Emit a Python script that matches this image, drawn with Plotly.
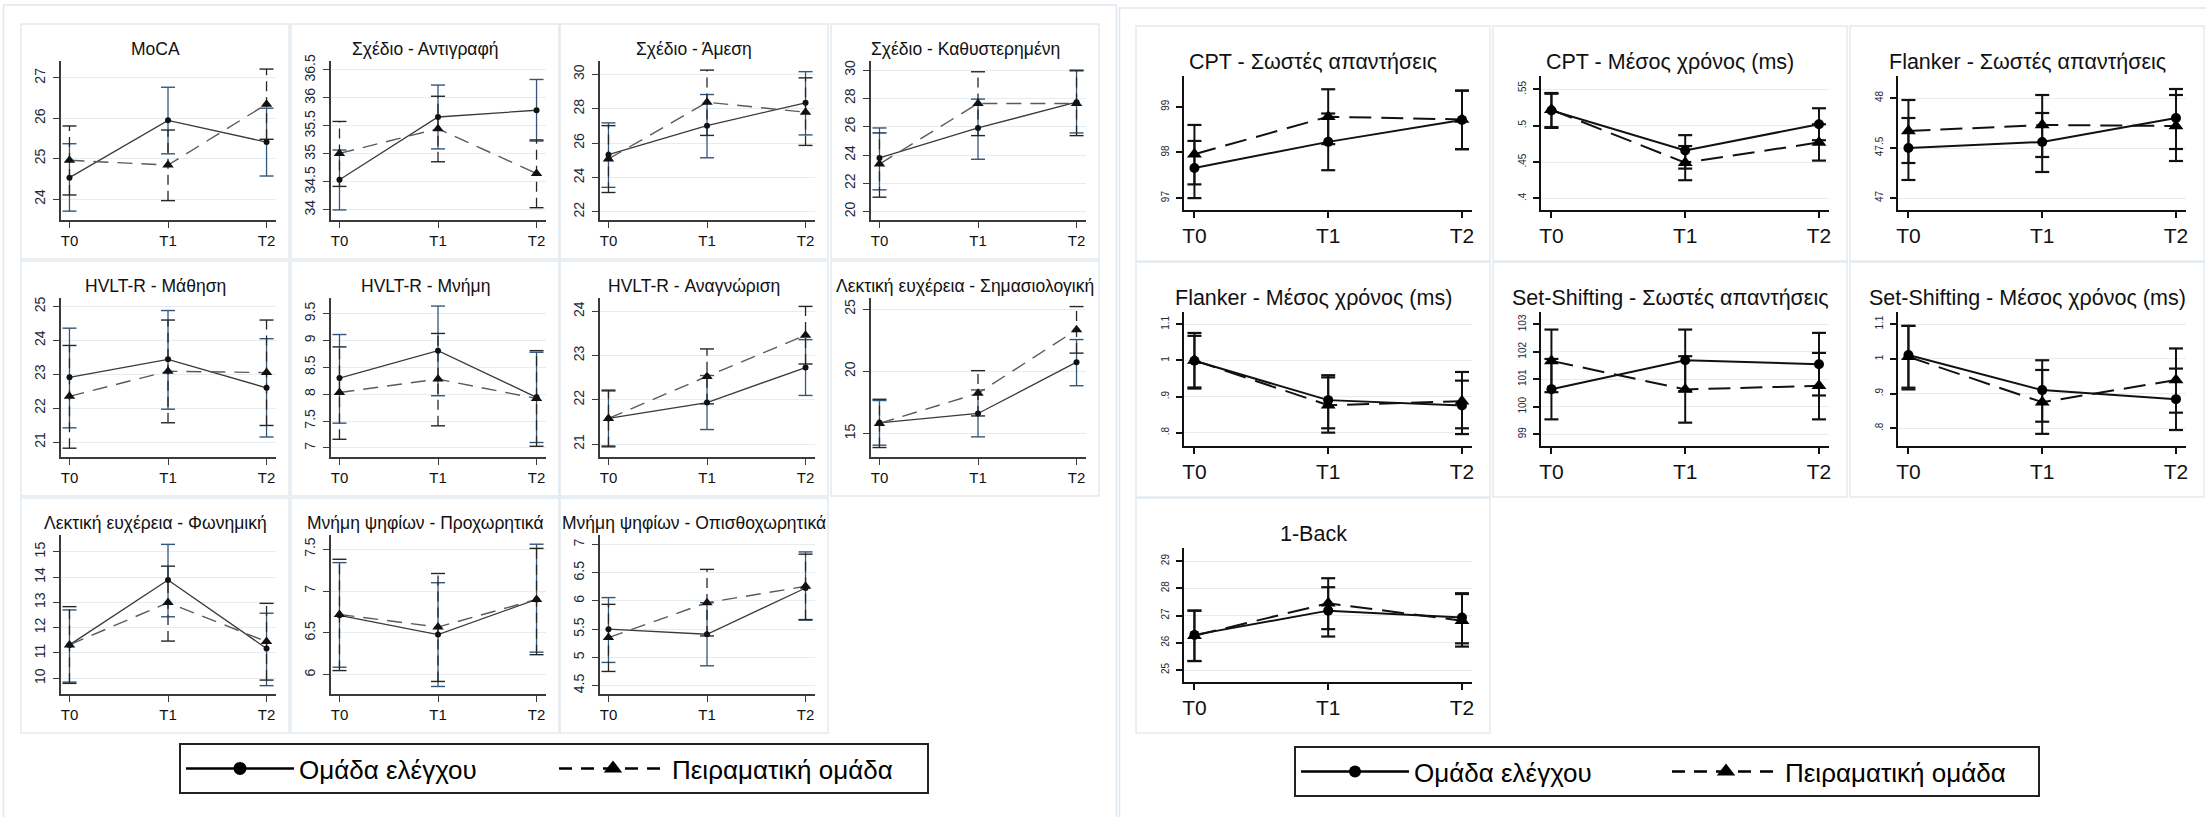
import plotly.graph_objects as go

W, H = 2206, 817
FONT = "Liberation Sans, Arial, Helvetica, sans-serif"

time_pos = [0, 1, 2]
time_labels = ["T0", "T1", "T2"]
group_names = ["Ομάδα ελέγχου", "Πειραματική ομάδα"]

# Estimated marginal means with 95% CI at T0, T1, T2 (control / experimental)
moca = dict(ctrl=[24.53, 25.95, 25.41], ctrl_lo=[23.70, 25.12, 24.57], ctrl_hi=[25.37, 26.77, 26.25],
            exp=[24.96, 24.84, 26.35], exp_lo=[24.10, 23.96, 25.48], exp_hi=[25.81, 25.71, 27.22])
draw_copy = dict(ctrl=[34.54, 35.66, 35.78], ctrl_lo=[34.00, 35.09, 35.23], ctrl_hi=[35.07, 36.23, 36.33],
                 exp=[35.01, 35.45, 34.65], exp_lo=[34.42, 34.86, 34.04], exp_hi=[35.58, 36.03, 35.25])
draw_immediate = dict(ctrl=[25.33, 27.02, 28.35], ctrl_lo=[23.43, 25.15, 26.48], ctrl_hi=[27.18, 28.83, 30.16],
                      exp=[25.08, 28.38, 27.80], exp_lo=[23.13, 26.45, 25.87], exp_hi=[27.02, 30.25, 29.80])
draw_delayed = dict(ctrl=[23.79, 25.91, 27.73], ctrl_lo=[21.54, 23.70, 25.56], ctrl_hi=[25.91, 27.95, 30.00],
                    exp=[23.36, 27.64, 27.64], exp_lo=[21.02, 25.37, 25.37], exp_hi=[25.56, 29.88, 29.95])
hvlt_learning = dict(ctrl=[22.91, 23.44, 22.60], ctrl_lo=[21.42, 21.97, 21.15], ctrl_hi=[24.36, 24.88, 24.05],
                     exp=[22.35, 23.09, 23.05], exp_lo=[20.82, 21.57, 21.49], exp_hi=[23.85, 24.60, 24.60])
hvlt_memory = dict(ctrl=[8.30, 8.81, 7.94], ctrl_lo=[7.46, 7.97, 7.10], ctrl_hi=[9.11, 9.64, 8.78],
                   exp=[8.03, 8.28, 7.92], exp_lo=[7.16, 7.41, 7.03], exp_hi=[8.88, 9.13, 8.81])
hvlt_recognition = dict(ctrl=[21.58, 21.94, 22.73], ctrl_lo=[20.96, 21.33, 22.10], ctrl_hi=[22.20, 22.55, 23.36],
                        exp=[21.58, 22.53, 23.46], exp_lo=[20.94, 21.91, 22.81], exp_hi=[22.22, 23.15, 24.11])
fluency_semantic = dict(ctrl=[15.86, 16.61, 20.73], ctrl_lo=[14.06, 14.73, 18.84], ctrl_hi=[17.65, 18.50, 22.55],
                        exp=[15.81, 18.23, 23.33], exp_lo=[13.87, 16.41, 21.46], exp_hi=[17.75, 20.05, 25.20])
fluency_phonemic = dict(ctrl=[11.32, 13.88, 11.18], ctrl_lo=[9.85, 12.43, 9.71], ctrl_hi=[12.70, 15.29, 12.57],
                        exp=[11.32, 12.99, 11.45], exp_lo=[9.80, 11.47, 9.93], exp_hi=[12.83, 14.43, 12.96])
digits_forward = dict(ctrl=[6.71, 6.48, 6.90], ctrl_lo=[6.09, 5.86, 6.27], ctrl_hi=[7.34, 7.10, 7.56],
                      exp=[6.72, 6.57, 6.90], exp_lo=[6.05, 5.92, 6.24], exp_hi=[7.38, 7.21, 7.51])
digits_backward = dict(ctrl=[5.50, 5.41, 6.23], ctrl_lo=[4.91, 4.85, 5.66], ctrl_hi=[6.06, 5.97, 6.87],
                       exp=[5.35, 5.97, 6.26], exp_lo=[4.75, 5.38, 5.67], exp_hi=[5.94, 6.56, 6.83])

cpt_correct = dict(ctrl=[97.66, 98.23, 98.71], ctrl_lo=[97.00, 97.61, 98.07], ctrl_hi=[98.25, 98.85, 99.35],
                   exp=[97.96, 98.78, 98.72], exp_lo=[97.30, 98.18, 98.07], exp_hi=[98.60, 99.38, 99.35])
cpt_rt = dict(ctrl=[0.521, 0.466, 0.502], ctrl_lo=[0.497, 0.441, 0.480], ctrl_hi=[0.544, 0.487, 0.524],
              exp=[0.522, 0.449, 0.477], exp_lo=[0.498, 0.425, 0.452], exp_hi=[0.545, 0.472, 0.502])
flanker_correct = dict(ctrl=[47.50, 47.56, 47.80], ctrl_lo=[47.18, 47.26, 47.49], ctrl_hi=[47.80, 47.85, 48.09],
                       exp=[47.67, 47.73, 47.72], exp_lo=[47.35, 47.41, 47.37], exp_hi=[47.98, 48.03, 48.03])
flanker_rt = dict(ctrl=[0.999, 0.890, 0.875], ctrl_lo=[0.922, 0.812, 0.796], ctrl_hi=[1.076, 0.959, 0.944],
                  exp=[1.000, 0.876, 0.887], exp_lo=[0.925, 0.800, 0.812], exp_hi=[1.068, 0.953, 0.968])
shifting_correct = dict(ctrl=[100.64, 101.69, 101.55], ctrl_lo=[99.54, 100.57, 100.41], ctrl_hi=[101.74, 102.81, 102.69],
                        exp=[101.67, 100.63, 100.76], exp_lo=[100.53, 99.42, 99.54], exp_hi=[102.81, 101.84, 101.96])
shifting_rt = dict(ctrl=[1.011, 0.910, 0.884], ctrl_lo=[0.917, 0.819, 0.795], ctrl_hi=[1.095, 0.996, 0.972],
                   exp=[1.006, 0.875, 0.939], exp_lo=[0.912, 0.784, 0.845], exp_hi=[1.095, 0.968, 1.030])
one_back = dict(ctrl=[26.29, 27.18, 26.93], ctrl_lo=[25.33, 26.23, 25.98], ctrl_hi=[27.18, 28.04, 27.82],
                exp=[26.26, 27.45, 26.81], exp_lo=[25.33, 26.50, 25.86], exp_hi=[27.18, 28.37, 27.79])

# (title, data, y range, y ticks, horizontal grid)
left_panels = [
    ("MoCA", moca, [23.48, 27.42], [24, 25, 26, 27], True),
    ("Σχέδιο - Αντιγραφή", draw_copy, [33.82, 36.66], [34, 34.5, 35, 35.5, 36, 36.5], True),
    ("Σχέδιο - Άμεση", draw_immediate, [21.53, 30.78], [22, 24, 26, 28, 30], True),
    ("Σχέδιο - Καθυστερημένη", draw_delayed, [19.41, 30.64], [20, 22, 24, 26, 28, 30], True),
    ("HVLT-R - Μάθηση", hvlt_learning, [20.56, 25.25], [21, 22, 23, 24, 25], True),
    ("HVLT-R - Μνήμη", hvlt_memory, [6.83, 9.79], [7, 7.5, 8, 8.5, 9, 9.5], True),
    ("HVLT-R - Αναγνώριση", hvlt_recognition, [20.71, 24.30], [21, 22, 23, 24], True),
    ("Λεκτική ευχέρεια - Σημασιολογική", fluency_semantic, [13.11, 25.89], [15, 20, 25], True),
    ("Λεκτική ευχέρεια - Φωνημική", fluency_phonemic, [9.38, 15.66], [10, 11, 12, 13, 14, 15], True),
    ("Μνήμη ψηφίων - Προχωρητικά", digits_forward, [5.77, 7.67], [6, 6.5, 7, 7.5], True),
    ("Μνήμη ψηφίων - Οπισθοχωρητικά", digits_backward, [4.35, 7.17], [4.5, 5, 5.5, 6, 6.5, 7], True),
]
right_panels = [
    ("CPT - Σωστές απαντήσεις", cpt_correct, [96.74, 99.67], [97, 98, 99], False),
    ("CPT - Μέσος χρόνος (ms)", cpt_rt, [0.384, 0.5684], [0.4, 0.45, 0.5, 0.55], True),
    ("Flanker - Σωστές απαντήσεις", flanker_correct, [46.88, 48.22], [47, 47.5, 48], True),
    ("Flanker - Μέσος χρόνος (ms)", flanker_rt, [0.763, 1.134], [0.8, 0.9, 1, 1.1], True),
    ("Set-Shifting - Σωστές απαντήσεις", shifting_correct, [98.57, 103.45], [99, 100, 101, 102, 103], True),
    ("Set-Shifting - Μέσος χρόνος (ms)", shifting_rt, [0.749, 1.135], [0.8, 0.9, 1, 1.1], True),
    ("1-Back", one_back, [24.56, 29.48], [25, 26, 27, 28, 29], True),
]

# Geometry of the two combined graphs, in pixels
left_geom = dict(cols=[21, 291, 560, 831], rows=[24, 261, 498], cell=(268, 235),
                 inset=(40, 13, 37, 39), title_dy=25, xrange=[-0.086, 2.096])
right_geom = dict(cols=[1136, 1493, 1850], rows=[26, 262, 498], cell=(354, 235),
                  inset=(48, 18, 50, 51), title_dy=36, xrange=[-0.078, 2.075])

left_style = dict(
    ctrl_line=dict(color="#3a3a3a", width=1.3),
    exp_line=dict(color="#5a5a5a", width=1.4, dash="15px,9px"),
    ctrl_marker=dict(symbol="circle", size=6, color="#111111"),
    exp_marker=dict(symbol="triangle-up", size=10, color="#111111"),
    ctrl_ci=dict(color="#34567a", width=1.3),
    exp_ci=dict(color="#262626", width=1.3, dash="10px,6px"),
    cap=10, cap_width=1.4,
    axis_color="#3a3a3a", axis_width=1.5, ticklen=6,
    xtick_size=15, ytick_size=14, title_size=17.5,
    legend_ctrl_marker=dict(symbol="circle", size=13, color="#000000"),
    legend_exp_marker=dict(symbol="triangle-up", size=16, color="#000000"),
    legend_exp_dash="13px,9px",
)
right_style = dict(
    ctrl_line=dict(color="#111111", width=2.0),
    exp_line=dict(color="#111111", width=2.0, dash="22px,10px"),
    ctrl_marker=dict(symbol="circle", size=10, color="#000000"),
    exp_marker=dict(symbol="triangle-up", size=13, color="#000000"),
    ctrl_ci=dict(color="#111111", width=2.0),
    exp_ci=dict(color="#111111", width=2.0),
    cap=10, cap_width=2.2,
    axis_color="#111111", axis_width=2, ticklen=6,
    xtick_size=21, ytick_size=10, title_size=21.5,
    legend_ctrl_marker=dict(symbol="circle", size=12, color="#000000"),
    legend_exp_marker=dict(symbol="triangle-up", size=16, color="#000000"),
    legend_exp_dash="13px,9px",
)

CELL_LINE = "#e2eaf0"
GRID = "#e6edf2"
TEXT = "#111111"
TICK_TEXT = "#1b2838"


def fx(px):
    return px / W


def fy(py):
    return 1 - py / H


def stata_label(v):
    s = f"{v:g}"
    return s[1:] if s.startswith("0.") else s


def ci_segments(lo, hi):
    xs, ys = [], []
    for t, a, b in zip(time_pos, lo, hi):
        xs += [t, t, None]
        ys += [a, b, None]
    return xs, ys


fig = go.Figure()
shapes, annotations, axes = [], [], {}


def add_panel(k, panel, cell_x, cell_y, geom, style):
    title, d, yr, yt, grid = panel
    cw, ch = geom["cell"]
    l, r, t, b = geom["inset"]
    xa, ya = f"x{k}", f"y{k}"
    shapes.append(dict(type="rect", xref="paper", yref="paper", layer="below",
                       x0=fx(cell_x), x1=fx(cell_x + cw), y0=fy(cell_y + ch), y1=fy(cell_y),
                       line=dict(color=CELL_LINE, width=1.5), fillcolor="white"))
    annotations.append(dict(text=title, xref="paper", yref="paper", showarrow=False,
                            x=fx(cell_x + cw / 2), y=fy(cell_y + geom["title_dy"]),
                            xanchor="center", yanchor="middle",
                            font=dict(family=FONT, size=style["title_size"], color=TEXT)))
    common = dict(showline=True, linecolor=style["axis_color"], linewidth=style["axis_width"],
                  ticks="outside", ticklen=style["ticklen"], tickwidth=style["axis_width"] * 0.8,
                  tickcolor=style["axis_color"], zeroline=False, fixedrange=True)
    axes[f"xaxis{k}"] = dict(common, domain=[fx(cell_x + l), fx(cell_x + cw - r)],
                             anchor=ya, range=geom["xrange"], tickvals=time_pos, ticktext=time_labels,
                             showgrid=False,
                             tickfont=dict(family=FONT, size=style["xtick_size"], color=TEXT))
    axes[f"yaxis{k}"] = dict(common, domain=[fy(cell_y + ch - b), fy(cell_y + t)],
                             anchor=xa, range=yr, tickvals=yt, ticktext=[stata_label(v) for v in yt],
                             tickangle=-90, showgrid=grid, gridcolor=GRID, gridwidth=1,
                             ticklabelstandoff=3,
                             tickfont=dict(family=FONT, size=style["ytick_size"], color=TICK_TEXT))

    for grp in ("ctrl", "exp"):
        sx, sy = ci_segments(d[f"{grp}_lo"], d[f"{grp}_hi"])
        fig.add_trace(go.Scatter(x=sx, y=sy, mode="lines", line=style[f"{grp}_ci"],
                                 xaxis=xa, yaxis=ya, showlegend=False, hoverinfo="skip"))
        fig.add_trace(go.Scatter(x=time_pos * 2, y=d[f"{grp}_lo"] + d[f"{grp}_hi"], mode="markers",
                                 marker=dict(symbol="line-ew", size=style["cap"],
                                             line=dict(color=style[f"{grp}_ci"]["color"],
                                                       width=style["cap_width"])),
                                 xaxis=xa, yaxis=ya, showlegend=False, hoverinfo="skip"))
    for grp, name in zip(("ctrl", "exp"), group_names):
        fig.add_trace(go.Scatter(x=time_pos, y=d[grp], mode="lines+markers", name=name,
                                 line=style[f"{grp}_line"], marker=style[f"{grp}_marker"],
                                 xaxis=xa, yaxis=ya, showlegend=False))


k = 1
for i, panel in enumerate(left_panels):
    add_panel(k, panel, left_geom["cols"][i % 4], left_geom["rows"][i // 4], left_geom, left_style)
    k += 1
for i, panel in enumerate(right_panels):
    add_panel(k, panel, right_geom["cols"][i % 3], right_geom["rows"][i // 3], right_geom, right_style)
    k += 1

# Legend entries (one legend per combined graph)
for legend_id, style in (("legend", left_style), ("legend2", right_style)):
    for grp, name in zip(("ctrl", "exp"), group_names):
        line = dict(color="#000000", width=2.5)
        if grp == "exp":
            line["dash"] = style["legend_exp_dash"]
        fig.add_trace(go.Scatter(x=[None], y=[None], mode="lines+markers", name=name,
                                 line=line, marker=style[f"legend_{grp}_marker"],
                                 legend=legend_id, showlegend=True, xaxis="x", yaxis="y"))

# Outer frames of the two graphs
shapes.insert(0, dict(type="rect", xref="paper", yref="paper", layer="below",
                      x0=fx(3.5), x1=fx(1116.5), y0=fy(830), y1=fy(5),
                      line=dict(color="#dfe7ee", width=1.5), fillcolor="white"))
shapes.insert(1, dict(type="rect", xref="paper", yref="paper", layer="below",
                      x0=fx(1119.5), x1=fx(2215), y0=fy(830), y1=fy(8),
                      line=dict(color="#dfe7ee", width=1.5), fillcolor="white"))

legend_common = dict(orientation="h", xanchor="left", yanchor="top", bgcolor="white",
                     bordercolor="#222222", borderwidth=2, itemwidth=108,
                     entrywidthmode="pixels",
                     font=dict(family=FONT, size=26, color="#000000"), itemclick=False)

fig.update_layout(
    width=W, height=H, margin=dict(l=0, r=0, t=0, b=0, autoexpand=False),
    paper_bgcolor="white", plot_bgcolor="rgba(0,0,0,0)",
    showlegend=True,
    legend=dict(legend_common, x=fx(179), y=fy(743), entrywidth=250),
    legend2=dict(legend_common, x=fx(1294), y=fy(746), entrywidth=248),
    shapes=shapes, annotations=annotations,
    **axes,
)
fig.layout.xaxis = fig.layout.xaxis1
fig.layout.yaxis = fig.layout.yaxis1

fig.write_html("out.html", config={"displayModeBar": False})
